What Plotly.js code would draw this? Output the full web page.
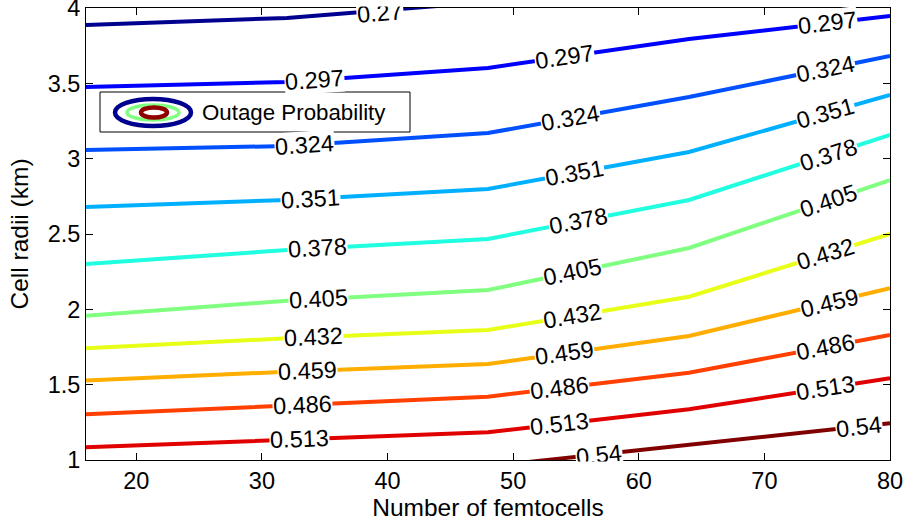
<!DOCTYPE html>
<html>
<head>
<meta charset="utf-8">
<script src="https://cdn.plot.ly/plotly-3.0.1.min.js"></script>
<style>html,body{margin:0;padding:0;background:#fff;}#chart{width:907px;height:528px;}</style>
</head>
<body>
<div id="chart"></div>
<script>
// Contour levels of outage probability
const levels = ['0.27','0.297','0.324','0.351','0.378','0.405','0.432','0.459','0.486','0.513','0.54'];
const levelColors = ['#00008f','#0000ff','#0050ff','#00b0ff','#20ffdf','#80ff80','#e8ff18','#ffae00','#ff4000','#e00000','#800000'];
// x: number of femtocells, y: cell radius (km) along each contour
const x_027 = [16, 32, 48];          const y_027 = [3.887, 3.934, 4.04];
const x_0297 = [16, 32, 48, 64, 80]; const y_0297 = [3.476, 3.509, 3.602, 3.794, 3.947];
const x_0324 = [16, 32, 48, 64, 80]; const y_0324 = [3.058, 3.084, 3.170, 3.409, 3.681];
const x_0351 = [16, 32, 48, 64, 80]; const y_0351 = [2.679, 2.726, 2.799, 3.044, 3.423];
const x_0378 = [16, 32, 48, 64, 80]; const y_0378 = [2.301, 2.394, 2.467, 2.726, 3.157];
const x_0405 = [16, 32, 48, 64, 80]; const y_0405 = [1.958, 2.057, 2.128, 2.407, 2.858];
const x_0432 = [16, 32, 48, 64, 80]; const y_0432 = [1.741, 1.808, 1.863, 2.084, 2.500];
const x_0459 = [16, 32, 48, 64, 80]; const y_0459 = [1.527, 1.586, 1.637, 1.823, 2.140];
const x_0486 = [16, 32, 48, 64, 80]; const y_0486 = [1.303, 1.360, 1.420, 1.579, 1.830];
const x_0513 = [16, 32, 48, 64, 80]; const y_0513 = [1.084, 1.133, 1.184, 1.337, 1.542];
const x_054 = [48, 64, 80];          const y_054 = [0.958, 1.100, 1.244];
// x positions of the in-line labels
const labelX = [[39.4],[34.2,54.1,75.0],[33.4,54.6,74.9],[33.9,54.9,74.9],[34.4,55.2,75.1],
                [34.5,54.7,75.1],[34.1,54.7,74.9],[33.6,54.1,75.2],[33.2,53.7,74.9],[33.0,53.7,74.9],[56.8,77.5]];
const xTicks = [20, 30, 40, 50, 60, 70, 80];
const yTicks = [1, 1.5, 2, 2.5, 3, 3.5, 4];
const yTickText = ['1', '1.5', '2', '2.5', '3', '3.5', '4'];
const legendText = 'Outage Probability';

const xs = [x_027, x_0297, x_0324, x_0351, x_0378, x_0405, x_0432, x_0459, x_0486, x_0513, x_054];
const ys = [y_027, y_0297, y_0324, y_0351, y_0378, y_0405, y_0432, y_0459, y_0486, y_0513, y_054];

const W = 907, H = 528;
const M = {l: 86, r: 17, t: 8, b: 68};
const xRange = [16, 80], yRange = [1, 4];
const pw = W - M.l - M.r, ph = H - M.t - M.b;
const kx = pw / (xRange[1] - xRange[0]), ky = ph / (yRange[1] - yRange[0]);
const FONT = 'Liberation Sans, Arial, Helvetica, sans-serif';

const traces = levels.map((lv, i) => ({
  type: 'scatter', mode: 'lines', x: xs[i], y: ys[i], name: lv,
  line: {color: levelColors[i], width: 4}, showlegend: false, hoverinfo: 'skip'
}));

function interp(xa, ya, x) {
  for (let j = 0; j < xa.length - 1; j++) {
    if (x >= xa[j] && x <= xa[j + 1]) {
      const t = (x - xa[j]) / (xa[j + 1] - xa[j]);
      return {y: ya[j] + t * (ya[j + 1] - ya[j]), s: (ya[j + 1] - ya[j]) / (xa[j + 1] - xa[j])};
    }
  }
  return {y: ya[ya.length - 1], s: 0};
}

const annotations = [];
levels.forEach((lv, i) => {
  labelX[i].forEach(lx => {
    const r = interp(xs[i], ys[i], lx);
    const ang = -Math.atan(r.s * ky / kx) * 180 / Math.PI;
    annotations.push({
      x: lx, y: r.y, xref: 'x', yref: 'y', text: lv, showarrow: false,
      textangle: ang, bgcolor: '#ffffff', borderpad: 0, yshift: (i === 0 ? -2 : 0),
      font: {family: FONT, size: 23.5, color: '#000'}, xanchor: 'center', yanchor: 'middle'
    });
  });
});
// white masks that clip labels at the plot edges
annotations.push({xref: 'paper', yref: 'paper', x: (340 - M.l) / pw, y: 1, xanchor: 'left', yanchor: 'bottom',
  yshift: 1, text: ' ', width: 100, height: 8, bgcolor: '#ffffff', borderpad: 0, showarrow: false, font: {size: 4}});
annotations.push({xref: 'paper', yref: 'paper', x: (560 - M.l) / pw, y: 0, xanchor: 'left', yanchor: 'top',
  yshift: -1, text: ' ', width: 75, height: 11, bgcolor: '#ffffff', borderpad: 0, showarrow: false, font: {size: 4}});
// legend text
const px2x = p => (p - M.l) / pw, px2y = p => (M.t + ph - p) / ph;
annotations.push({xref: 'paper', yref: 'paper', x: px2x(200), y: px2y(112), xanchor: 'left', yanchor: 'middle',
  text: legendText, showarrow: false, font: {family: FONT, size: 22.3, color: '#000'}});

const shapes = [
  {type: 'rect', xref: 'paper', yref: 'paper', x0: px2x(100), x1: px2x(410), y0: px2y(132), y1: px2y(92),
   fillcolor: '#ffffff', line: {color: '#000', width: 1}, layer: 'above'},
  {type: 'circle', xref: 'paper', yref: 'paper', x0: px2x(115), x1: px2x(191), y0: px2y(126), y1: px2y(99),
   line: {color: '#00008f', width: 4.5}, layer: 'above'},
  {type: 'circle', xref: 'paper', yref: 'paper', x0: px2x(127), x1: px2x(179), y0: px2y(120), y1: px2y(105),
   line: {color: '#80ff80', width: 3.5}, layer: 'above'},
  {type: 'circle', xref: 'paper', yref: 'paper', x0: px2x(141), x1: px2x(167), y0: px2y(117.5), y1: px2y(107.5),
   fillcolor: '#ffffff', line: {color: '#900000', width: 4.5}, layer: 'above'}
];

const axisCommon = {
  showgrid: false, zeroline: false, showline: true, linecolor: '#000', linewidth: 1, mirror: 'ticks',
  ticks: 'inside', ticklen: 7, tickcolor: '#000', ticklabeloverflow: 'allow',
  tickfont: {family: FONT, size: 23.5, color: '#000'}
};

const layout = {
  width: W, height: H, margin: M, paper_bgcolor: '#fff', plot_bgcolor: '#fff',
  xaxis: Object.assign({}, axisCommon, {range: xRange, tickvals: xTicks, ticktext: xTicks.map(String),
    title: {text: 'Number of femtocells', font: {family: FONT, size: 24.5, color: '#000'}, standoff: 3}}),
  yaxis: Object.assign({}, axisCommon, {range: yRange, tickvals: yTicks, ticktext: yTickText,
    title: {text: 'Cell radii (km)', font: {family: FONT, size: 24.5, color: '#000'}, standoff: 12}}),
  annotations: annotations, shapes: shapes, showlegend: false
};

Plotly.newPlot('chart', traces, layout, {displayModeBar: false, staticPlot: true});
</script>
</body>
</html>
